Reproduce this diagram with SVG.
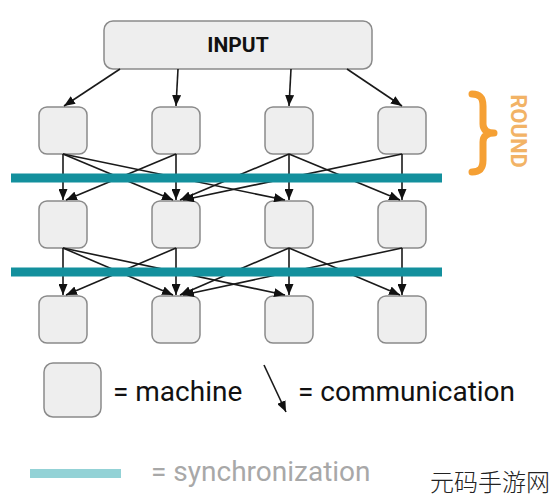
<svg xmlns="http://www.w3.org/2000/svg" width="554" height="500" viewBox="0 0 554 500">
<style>
.box{fill:#eeeeee;stroke:#8a8a8a;stroke-width:1.5}
.c{stroke:#1a1a1a;stroke-width:1.6;fill:none;marker-end:url(#ah)}
.sync{stroke:#13909d;stroke-width:9}
.t{font-family:Roboto,"Liberation Sans",sans-serif;font-size:28px;fill:#111}
</style>
<defs>
<marker id="ah" markerUnits="userSpaceOnUse" markerWidth="11" markerHeight="9" refX="11" refY="4.5" orient="auto">
<path d="M0,0 L11,4.5 L0,9 z" fill="#111"/>
</marker>
</defs>
<rect width="554" height="500" fill="#ffffff"/>
<g id="input">
<rect class="box" x="104" y="21" width="268" height="48" rx="9"/>
<text x="238" y="52" text-anchor="middle" style="font-family:Roboto,'Liberation Sans',sans-serif;font-size:21px;font-weight:bold;fill:#111">INPUT</text>
</g>
<g id="r1c1"><rect class="box" x="39" y="107" width="48" height="47" rx="8"/></g>
<g id="r1c2"><rect class="box" x="152" y="107" width="48" height="47" rx="8"/></g>
<g id="r1c3"><rect class="box" x="265" y="107" width="48" height="47" rx="8"/></g>
<g id="r1c4"><rect class="box" x="378" y="107" width="48" height="47" rx="8"/></g>
<g id="r2c1"><rect class="box" x="39" y="201" width="48" height="47" rx="8"/></g>
<g id="r2c2"><rect class="box" x="152" y="201" width="48" height="47" rx="8"/></g>
<g id="r2c3"><rect class="box" x="265" y="201" width="48" height="47" rx="8"/></g>
<g id="r2c4"><rect class="box" x="378" y="201" width="48" height="47" rx="8"/></g>
<g id="r3c1"><rect class="box" x="39" y="296" width="48" height="47" rx="8"/></g>
<g id="r3c2"><rect class="box" x="152" y="296" width="48" height="47" rx="8"/></g>
<g id="r3c3"><rect class="box" x="265" y="296" width="48" height="47" rx="8"/></g>
<g id="r3c4"><rect class="box" x="378" y="296" width="48" height="47" rx="8"/></g>
<g id="connectors">
<line class="c" x1="120" y1="69" x2="64" y2="106"/>
<line class="c" x1="178" y1="69" x2="176" y2="106"/>
<line class="c" x1="291" y1="69" x2="289" y2="106"/>
<line class="c" x1="347" y1="69" x2="402" y2="106"/>
<line class="c" x1="63" y1="154" x2="63" y2="200"/>
<line class="c" x1="63" y1="154" x2="173" y2="200"/>
<line class="c" x1="63" y1="154" x2="285" y2="200"/>
<line class="c" x1="176" y1="154" x2="66" y2="200"/>
<line class="c" x1="176" y1="154" x2="176" y2="200"/>
<line class="c" x1="289" y1="154" x2="180" y2="200"/>
<line class="c" x1="289" y1="154" x2="289" y2="200"/>
<line class="c" x1="289" y1="154" x2="400" y2="200"/>
<line class="c" x1="402" y1="154" x2="183" y2="200"/>
<line class="c" x1="402" y1="154" x2="402" y2="200"/>
<line class="c" x1="63" y1="248" x2="63" y2="295"/>
<line class="c" x1="63" y1="248" x2="173" y2="295"/>
<line class="c" x1="63" y1="248" x2="285" y2="295"/>
<line class="c" x1="176" y1="248" x2="66" y2="295"/>
<line class="c" x1="176" y1="248" x2="176" y2="295"/>
<line class="c" x1="289" y1="248" x2="180" y2="295"/>
<line class="c" x1="289" y1="248" x2="289" y2="295"/>
<line class="c" x1="289" y1="248" x2="400" y2="295"/>
<line class="c" x1="402" y1="248" x2="183" y2="295"/>
<line class="c" x1="402" y1="248" x2="402" y2="295"/>
<line class="c" x1="264" y1="365" x2="286" y2="412"/>
</g>
<g id="sync-lines">
<line class="sync" x1="11" y1="178" x2="442" y2="178"/>
<line class="sync" x1="11" y1="272" x2="442" y2="272"/>
</g>
<g id="round">
<path d="M472,94 C480,94 483,98 483,106 L483,124 C483,130 487,133 494,133 C487,133 483,136 483,142 L483,160 C483,168 480,172 472,172" fill="none" stroke="#f5a034" stroke-width="7" stroke-linecap="round" stroke-linejoin="round"/>
<text transform="translate(511,131) rotate(90)" text-anchor="middle" style="font-family:Roboto,'Liberation Sans',sans-serif;font-size:22px;font-weight:bold;fill:#f2b366">ROUND</text>
</g>
<g id="legend">
<rect class="box" x="44" y="363" width="57" height="54" rx="9"/>
<text class="t" x="113" y="401">= machine</text>
<text class="t" x="298" y="401">= communication</text>
<rect x="30" y="469" width="91" height="9" fill="#93d2d6"/>
<text class="t" x="151" y="481" style="fill:#a8a8a8">= synchronization</text>
</g>
<text x="430" y="491" style="font-family:'Noto Sans CJK SC',sans-serif;font-size:24px;font-weight:300;fill:#222">元码手游网</text>
</svg>
